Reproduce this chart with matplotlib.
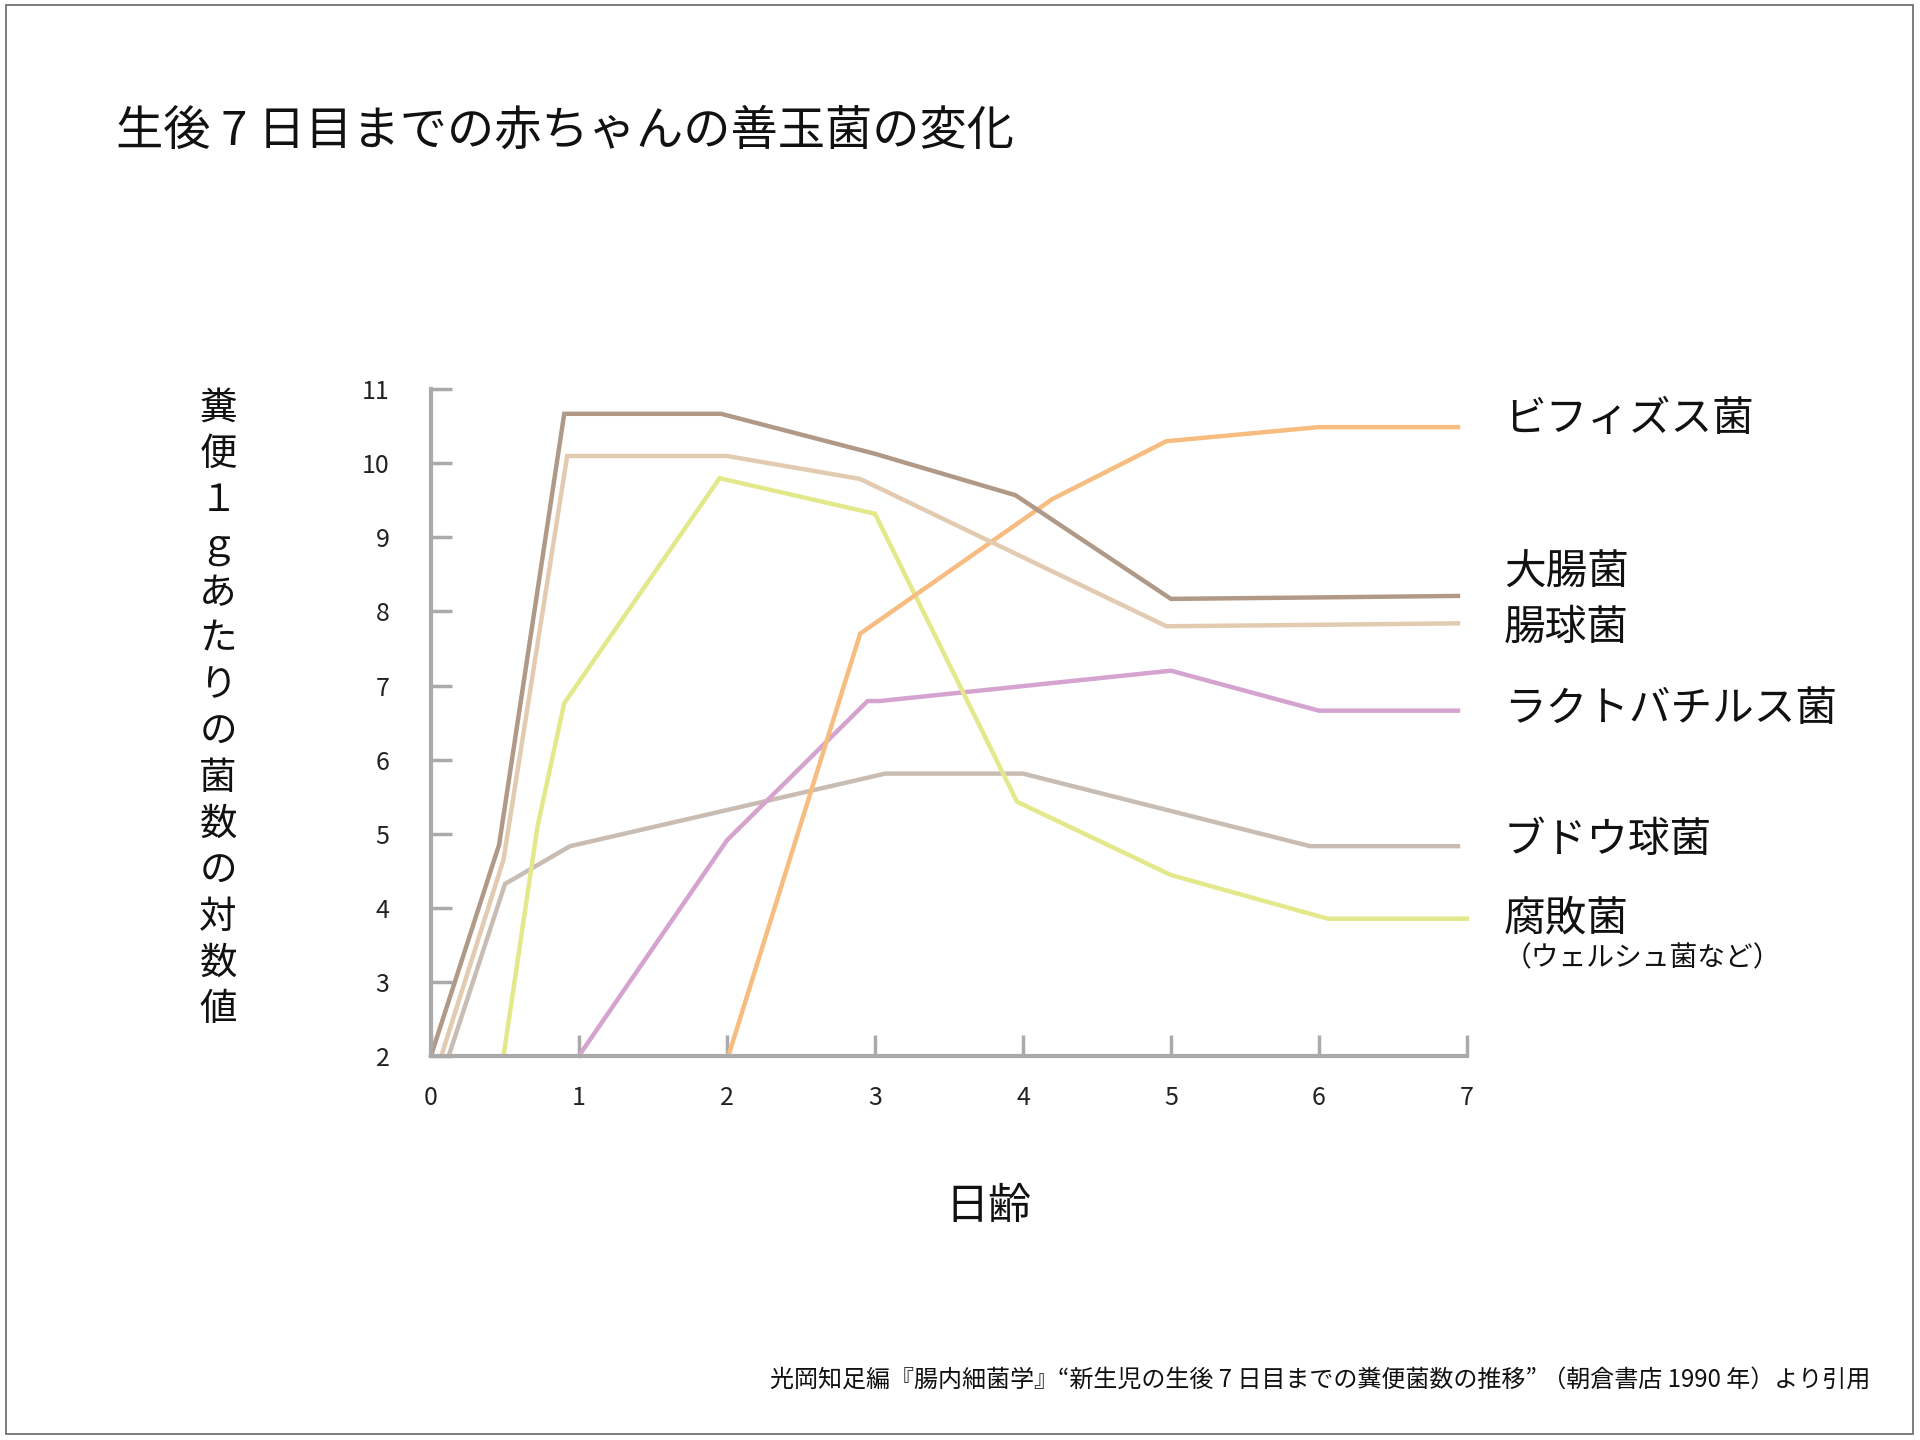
import matplotlib.pyplot as plt
from matplotlib.patches import Rectangle

plt.rcParams['font.family'] = ['Noto Sans CJK JP', 'DejaVu Sans']

# data (x = days after birth, y = log10 count per 1 g feces)
bifidus_x = [2.01, 2.9, 4.2, 4.97, 6.0, 6.94]
bifidus_y = [2.0, 7.7, 9.52, 10.3, 10.49, 10.49]
coli_x = [0.0, 0.46, 0.9, 1.96, 3.0, 3.95, 5.0, 6.0, 6.94]
coli_y = [2.0, 4.85, 10.67, 10.67, 10.13, 9.57, 8.17, 8.19, 8.21]
entero_x = [0.07, 0.49, 0.92, 2.0, 2.9, 4.97, 6.0, 6.94]
entero_y = [2.0, 4.65, 10.1, 10.1, 9.79, 7.8, 7.82, 7.84]
lacto_x = [1.0, 2.0, 2.95, 3.03, 5.0, 6.0, 6.94]
lacto_y = [2.0, 4.91, 6.79, 6.79, 7.2, 6.66, 6.66]
staph_x = [0.12, 0.5, 0.94, 3.07, 4.0, 5.94, 6.94]
staph_y = [2.0, 4.32, 4.83, 5.81, 5.81, 4.83, 4.83]
putre_x = [0.49, 0.72, 0.9, 1.95, 3.0, 3.96, 5.0, 6.06, 7.0]
putre_y = [2.0, 5.1, 6.76, 9.8, 9.32, 5.43, 4.44, 3.85, 3.85]

series = [
    (staph_x, staph_y, '#c9bdb3'),
    (lacto_x, lacto_y, '#d4a3cf'),
    (putre_x, putre_y, '#e3e98a'),
    (bifidus_x, bifidus_y, '#f7bd80'),
    (entero_x, entero_y, '#e2cbb0'),
    (coli_x, coli_y, '#b09a87'),
]

labels = ['ビフィズス菌', '大腸菌', '腸球菌', 'ラクトバチルス菌', 'ブドウ球菌', '腐敗菌']
label_y = [10.59, 8.51, 7.77, 6.68, 4.91, 3.85]

title = '生後 7 日目までの赤ちゃんの善玉菌の変化'
ylabel = '糞便１ｇあたりの菌数の対数値'
source = '光岡知足編『腸内細菌学』“新生児の生後 7 日目までの糞便菌数の推移” （朝倉書店 1990 年）より引用'

fig = plt.figure(figsize=(19.2, 14.4), dpi=100)
ax = fig.add_axes([0.2245, 0.2669, 0.5395, 0.4627])

for xs, ys, c in series:
    ax.plot(xs, ys, color=c, lw=3.2, clip_on=False, solid_joinstyle='miter')

ax.set_xlim(0, 7)
ax.set_ylim(2, 11)
ax.set_xticks(range(0, 8))
ax.set_yticks(range(2, 12))

axis_gray = '#aaaaaa'
for s in ['top', 'right']:
    ax.spines[s].set_visible(False)
for s in ['left', 'bottom']:
    ax.spines[s].set_color(axis_gray)
    ax.spines[s].set_linewidth(3)
ax.tick_params(axis='both', direction='in', length=15, width=2.5, color=axis_gray,
               labelsize=18, labelcolor='#222222')
ax.tick_params(axis='y', pad=30)
ax.tick_params(axis='x', pad=21)

for lab, y in zip(labels, label_y):
    ax.text(7.25, y, lab, fontsize=30, va='center', ha='left', color='#111111')
ax.text(7.25, 3.32, '（ウェルシュ菌など）', fontsize=20, va='center', ha='left', color='#111111')

ax.text(3.77, -0.05, '日齢', fontsize=31, ha='center', va='center', color='#111111')

# vertical y-axis title, one char per row
for i, ch in enumerate(ylabel):
    fig.text(218 / 1920, 1 - (408 + i * 46.3) / 1440, ch, fontsize=27,
             ha='center', va='center', color='#111111')

fig.text(116 / 1920, 1 - 131 / 1440, title, fontsize=34, ha='left', va='center', color='#111111')
fig.text(1870 / 1920, 1 - 1380 / 1440, source, fontsize=17.3, ha='right', va='center', color='#111111')

fig.patches.append(Rectangle((0.003, 0.004), 0.9935, 0.9925, transform=fig.transFigure,
                             fill=False, edgecolor='#666666', lw=1.2))

plt.savefig('out.png', dpi=100)
plt.close()
